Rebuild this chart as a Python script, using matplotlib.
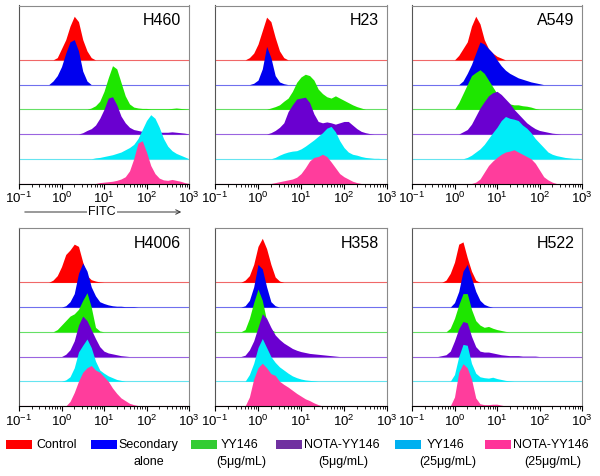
import numpy as np
import matplotlib
matplotlib.use("Agg")
import matplotlib.pyplot as plt
from matplotlib.patches import Rectangle, FancyArrowPatch

plt.rcParams['font.family'] = ['Liberation Sans', 'DejaVu Sans']
plt.rcParams['mathtext.fontset'] = 'custom'
plt.rcParams['mathtext.rm'] = 'Liberation Sans'
plt.rcParams['mathtext.it'] = 'Liberation Sans'

# each histogram: first log10(FITC) bin, then heights (% of mode) every 0.1 decade
# order: Control, Secondary alone, YY146 5, NOTA-YY146 5, YY146 25, NOTA-YY146 25
cell_lines = ["H460", "H23", "A549", "H4006", "H358", "H522"]

h460_starts = [-0.2, -0.3, 0.6, 0.4, 0.7, 0.8]
h460_counts = [
    [0, 5, 25, 45, 75, 97, 85, 45, 20, 5, 0],
    [0, 8, 20, 40, 70, 95, 100, 75, 30, 8, 0],
    [0, 3, 8, 18, 40, 70, 97, 90, 60, 30, 12, 5, 3, 2, 2, 1, 1, 1, 1, 1, 2, 3, 2, 1, 0],
    [0, 3, 8, 12, 20, 35, 55, 80, 83, 65, 40, 25, 15, 10, 8, 6, 5, 4, 4, 4, 4, 4, 5, 4, 3, 2, 0],
    [0, 2, 3, 5, 7, 9, 12, 15, 20, 25, 32, 45, 65, 85, 98, 90, 70, 45, 28, 18, 12, 8, 4, 0],
    [0, 2, 3, 4, 5, 7, 10, 15, 28, 55, 90, 95, 70, 40, 22, 12, 8, 7, 9, 7, 5, 2, 0],
]

h23_starts = [-0.3, -0.2, 0.2, 0.2, 0.3, 0.3]
h23_counts = [
    [0, 5, 15, 35, 65, 95, 85, 50, 20, 5, 0],
    [0, 3, 10, 35, 85, 60, 20, 6, 2, 0],
    [0, 3, 6, 10, 18, 25, 40, 60, 72, 78, 75, 65, 45, 35, 28, 25, 30, 25, 20, 15, 10, 6, 3, 0],
    [0, 3, 8, 15, 25, 50, 65, 78, 80, 82, 70, 45, 28, 25, 27, 25, 22, 25, 28, 28, 20, 12, 6, 3, 1, 0],
    [0, 3, 8, 12, 15, 17, 18, 22, 28, 35, 42, 50, 58, 68, 72, 60, 40, 25, 15, 10, 8, 5, 3, 2, 1, 1, 0],
    [0, 2, 4, 6, 8, 10, 14, 22, 35, 50, 58, 60, 65, 60, 48, 35, 22, 15, 10, 5, 2, 0],
]

a549_starts = [0.0, 0.1, 0.0, 0.1, 0.2, 0.4]
a549_counts = [
    [0, 10, 25, 40, 75, 97, 80, 45, 25, 15, 8, 4, 0],
    [0, 8, 25, 45, 70, 95, 90, 80, 70, 55, 42, 32, 25, 20, 15, 12, 9, 6, 4, 2, 0],
    [0, 15, 35, 55, 75, 82, 88, 80, 65, 50, 35, 22, 15, 12, 10, 10, 8, 7, 5, 2, 0],
    [0, 5, 10, 22, 40, 58, 72, 85, 92, 95, 88, 78, 68, 55, 45, 35, 25, 18, 12, 8, 6, 4, 2, 1, 0],
    [0, 3, 8, 15, 22, 32, 45, 58, 70, 85, 94, 90, 88, 85, 75, 68, 58, 45, 35, 25, 15, 10, 7, 5, 3, 2, 1, 1, 0],
    [0, 3, 10, 25, 40, 50, 58, 65, 70, 72, 75, 70, 65, 60, 55, 45, 30, 15, 8, 3, 0],
]

h4006_starts = [-0.3, 0.0, -0.2, 0.0, 0.0, 0.1]
h4006_counts = [
    [0, 5, 15, 35, 62, 72, 85, 80, 45, 15, 6, 3, 1, 0],
    [0, 3, 12, 30, 75, 98, 80, 45, 25, 12, 8, 5, 3, 2, 2, 1, 1, 1, 0],
    [0, 5, 15, 25, 35, 40, 50, 70, 87, 55, 10, 2, 0],
    [0, 5, 15, 35, 70, 90, 80, 60, 40, 22, 12, 8, 6, 4, 2, 1, 0],
    [0, 3, 10, 30, 65, 80, 94, 75, 45, 25, 18, 12, 8, 4, 2, 0],
    [0, 10, 30, 55, 75, 85, 90, 80, 75, 65, 55, 40, 28, 18, 12, 6, 3, 1, 0],
]

h358_starts = [-0.4, -0.4, -0.4, -0.4, -0.3, -0.3]
h358_counts = [
    [0, 5, 15, 40, 80, 98, 75, 40, 12, 3, 0],
    [0, 3, 15, 45, 95, 85, 45, 12, 3, 0],
    [0, 5, 30, 65, 95, 70, 25, 5, 0],
    [0, 3, 15, 35, 65, 95, 85, 65, 48, 38, 30, 24, 18, 14, 11, 9, 7, 6, 5, 4, 3, 2, 1, 0],
    [0, 15, 40, 75, 95, 75, 55, 42, 32, 25, 18, 12, 8, 5, 3, 2, 1, 0],
    [0, 20, 60, 85, 95, 85, 72, 68, 55, 48, 42, 35, 28, 22, 16, 12, 7, 3, 0],
]

h522_starts = [-0.3, -0.1, -0.2, -0.4, -0.1, -0.1]
h522_counts = [
    [0, 5, 20, 45, 85, 90, 55, 25, 5, 0],
    [0, 10, 35, 80, 95, 65, 35, 15, 6, 2, 0],
    [0, 8, 30, 60, 85, 85, 50, 25, 15, 10, 12, 8, 5, 3, 1, 0],
    [0, 2, 4, 12, 35, 62, 78, 75, 45, 22, 12, 10, 10, 8, 6, 4, 3, 2, 2, 2, 1, 1, 1, 1, 0],
    [0, 15, 55, 82, 80, 40, 18, 10, 8, 7, 9, 6, 4, 2, 1, 0],
    [0, 20, 75, 94, 85, 60, 18, 5, 3, 3, 4, 4, 2, 0],
]

legend_labels = ["Control", "Secondary", "YY146", "NOTA-YY146", "YY146", "NOTA-YY146"]
legend_sublabels = ["", "alone", "(5\u03bcg/mL)", "(5\u03bcg/mL)", "(25\u03bcg/mL)", "(25\u03bcg/mL)"]

fill_colors = ["#ff0000", "#0000ee", "#1ee600", "#6a00d0", "#00ecf8", "#ff3d9c"]
line_colors = ["#f06868", "#7070ee", "#66e066", "#9a64e0", "#66e4f0", "#ff3d9c"]
legend_colors = ["#ff0000", "#0000ff", "#33cc33", "#7030a0", "#00b0f0", "#ff3399"]

panels = [
    (h460_starts, h460_counts), (h23_starts, h23_counts), (a549_starts, a549_counts),
    (h4006_starts, h4006_counts), (h358_starts, h358_counts), (h522_starts, h522_counts),
]

W, H = 600, 476
fig = plt.figure(figsize=(6, 4.76), dpi=100)

cols = [(19, 189), (215, 387), (412, 582)]
rows = [(5.5, 183.5), (228, 406)]
peak = 1.82  # mode height in lane units

for k, (starts, counts) in enumerate(panels):
    x0, x1 = cols[k % 3]
    y0, y1 = rows[k // 3]
    ax = fig.add_axes([x0 / W, 1 - y1 / H, (x1 - x0) / W, (y1 - y0) / H])
    for i in range(6):
        base = 5 - i
        h = np.array(counts[i], dtype=float)
        logs = starts[i] + 0.1 * np.arange(len(h))
        xs = 10 ** logs
        ax.axhline(base, color=line_colors[i], lw=0.8, zorder=2 + i)
        ax.fill_between(xs, base, base + h / 100 * peak, color=fill_colors[i],
                        lw=0, zorder=2 + i)
    ax.set_xscale('log')
    ax.set_xlim(0.1, 1000)
    ax.set_ylim(0, 7.2)
    ax.set_yticks([])
    ax.set_xticks([0.1, 1, 10, 100, 1000])
    ax.set_xticklabels([r'$10^{-1}$', r'$10^{0}$', r'$10^{1}$', r'$10^{2}$', r'$10^{3}$'],
                       fontsize=9.5)
    ax.tick_params(axis='x', which='major', direction='out', length=3.5, width=0.8, pad=2)
    ax.tick_params(axis='x', which='minor', direction='out', length=2, width=0.6)
    for sp in ax.spines.values():
        sp.set_color('#8a8a8a')
        sp.set_linewidth(0.8)
        sp.set_zorder(20)
    ax.spines['bottom'].set_color('black')
    ax.spines['left'].set_color('#555555')
    ax.text(0.955, 0.915, cell_lines[k], transform=ax.transAxes, ha='right', va='center',
            fontsize=11.5)

# FITC arrow under the first panel
ya = 1 - 212 / H
fig.add_artist(FancyArrowPatch((22 / W, ya), (184 / W, ya), transform=fig.transFigure,
                               arrowstyle='->', mutation_scale=8, lw=0.7, color='#333333'))
fig.text(102 / W, ya, "FITC", ha='center', va='center', fontsize=9,
         bbox=dict(facecolor='white', edgecolor='none', pad=0.5))

# legend
patch_x = [6, 91, 191, 276, 395, 485]
sub_x = [0, 149, 241, 343, 448, 553]
text_x = [36, 118, 221, 304, 427, 513]
for i in range(6):
    fig.add_artist(Rectangle((patch_x[i] / W, 1 - 449 / H), 26 / W, 9 / H,
                             transform=fig.transFigure, facecolor=legend_colors[i],
                             edgecolor='none'))
    fig.text(text_x[i] / W, 1 - 445 / H, legend_labels[i], ha='left', va='center',
             fontsize=9)
    if legend_sublabels[i]:
        fig.text(sub_x[i] / W, 1 - 462 / H, legend_sublabels[i], ha='center',
                 va='center', fontsize=9)

fig.savefig("out.png", dpi=100)
